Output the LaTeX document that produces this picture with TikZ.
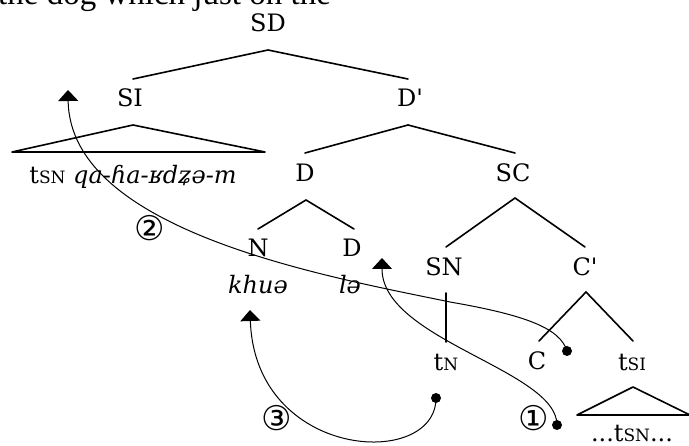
\documentclass[tikz,border=0pt]{standalone}
\usepackage{fontspec}
\setmainfont{DejaVu Serif}
\newfontfamily\circfont{DejaVu Sans}
\newfontfamily\topfont{Liberation Serif}
\usetikzlibrary{arrows.meta}
\newcommand\mysc[1]{{\fontsize{17}{17}\selectfont #1}}
\begin{document}
\begin{tikzpicture}[x=1pt,y=-1pt,
  lbl/.style={font=\fontsize{24}{24}\selectfont, inner sep=0pt, anchor=base},
  edge/.style={line width=1.6pt, line cap=round, line join=round},
  mv/.style={line width=1pt, -{Triangle[width=20pt,length=11pt]}},
  dotn/.style={circle, fill, inner sep=0pt, minimum size=10pt},
  num/.style={font=\circfont\fontsize{34}{34}\selectfont, inner sep=0pt}]
\useasboundingbox (0,0) rectangle (689,446);
\node[anchor=base west, inner sep=0pt] (top) at (-2,5) {\topfont\fontsize{33}{36}\selectfont the dog which just on the};
% tree labels
\node[lbl] (SD) at (268,32) {SD};
\node[lbl] (SI) at (130,107) {SI};
\node[lbl] (Dp) at (410,107) {D\textquotesingle};
\node[lbl] (D) at (305,182) {D};
\node[lbl] (SC) at (513,182) {SC};
\node[lbl] (SIw) at (133,184) {t\mysc{SN} \textit{qa-ɦa-ʁdʑə-m}};
\node[lbl] (N) at (258,257) {N};
\node[lbl] (Dl) at (352,257) {D};
\node[lbl] (khu) at (258,294) {\textit{khuə}};
\node[lbl] (le) at (350,294) {\textit{lə}};
\node[lbl] (SN) at (444,276) {SN};
\node[lbl] (Cp) at (585,276) {C\textquotesingle};
\node[lbl] (tN) at (446,371) {t\mysc{N}};
\node[lbl] (C) at (537,370) {C};
\node[lbl] (tSI) at (632,371) {t\mysc{SI}};
\node[lbl] (bot) at (632,442) {...t\mysc{SN}...};
% tree edges
\draw[edge] ([yshift=-18pt]SD.base) -- ([xshift=3pt,yshift=28pt]SI.base);
\draw[edge] ([yshift=-18pt]SD.base) -- ([xshift=-2pt,yshift=28pt]Dp.base);
\draw[edge] ([xshift=3pt,yshift=-18pt]SI.base) -- ([xshift=-121pt,yshift=32pt]SIw.base) -- ([xshift=132pt,yshift=32pt]SIw.base) -- cycle;
\draw[edge] ([xshift=-2pt,yshift=-18pt]Dp.base) -- ([yshift=29pt]D.base);
\draw[edge] ([xshift=-2pt,yshift=-18pt]Dp.base) -- ([xshift=2pt,yshift=29pt]SC.base);
\draw[edge] ([xshift=1pt,yshift=-18pt]D.base) -- ([yshift=28pt]N.base);
\draw[edge] ([xshift=1pt,yshift=-18pt]D.base) -- ([xshift=2pt,yshift=28pt]Dl.base);
\draw[edge] ([xshift=2pt,yshift=-16pt]SC.base) -- ([xshift=2pt,yshift=29pt]SN.base);
\draw[edge] ([xshift=2pt,yshift=-16pt]SC.base) -- ([yshift=29pt]Cp.base);
\draw[edge] ([xshift=2pt,yshift=-17pt]SN.base) -- ([yshift=29pt]tN.base);
\draw[edge] ([xshift=1pt,yshift=-16pt]Cp.base) -- ([xshift=2pt,yshift=29pt]C.base);
\draw[edge] ([xshift=1pt,yshift=-16pt]Cp.base) -- ([xshift=1pt,yshift=30pt]tSI.base);
\draw[edge] ([xshift=1pt,yshift=-16pt]tSI.base) -- ([xshift=-55pt,yshift=27pt]bot.base) -- ([xshift=58pt,yshift=27pt]bot.base) -- cycle;
% movement arrows
\node[dotn] (d1) at (557,425) {};
\node[dotn] (d2) at (567,351) {};
\node[dotn] (d3) at (436,398) {};
\coordinate (a1) at (382,258);
\coordinate (a2) at (68,90);
\coordinate (a3) at (250,310);
\draw[mv] (d1.center) .. controls (557,370) and (382,340) .. (a1);
\draw[mv] (d2.center) .. controls (560,328) and (525,315) .. (450,302) .. controls (330,277) and (70,232) .. (a2);
\draw[mv] (d3.center) .. controls (436,470) and (255,460) .. (a3);
\node[num] (n1) at (534,418) {①};
\node[num] (n2) at (150,228) {②};
\node[num] (n3) at (277,418) {③};
\end{tikzpicture}
\end{document}
